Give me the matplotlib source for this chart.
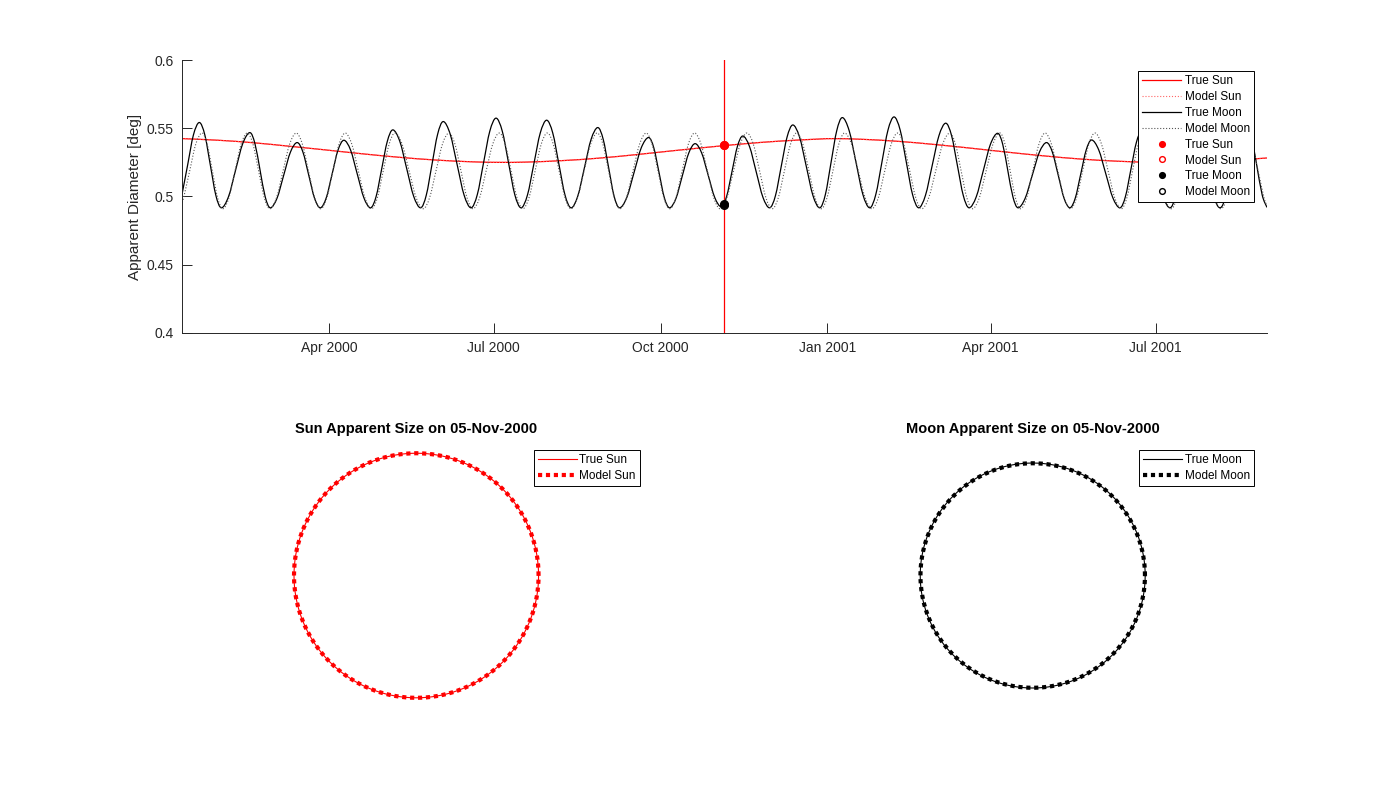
import numpy as np
import pandas as pd
import matplotlib
matplotlib.use("Agg")
import matplotlib.pyplot as plt
import matplotlib.dates as mdates
from matplotlib.ticker import FuncFormatter
from matplotlib.path import Path
from matplotlib.patches import PathPatch

plt.rcParams['font.family'] = ['Liberation Sans', 'DejaVu Sans']

# --- data ---
START = pd.Timestamp('2000-01-11')      # left edge of the time axis
NOW = pd.Timestamp('2000-11-05')        # selected date (red line)
now_label = '05-Nov-2000'

# Sun apparent diameter [deg], days since START
sun_days = [0, 20, 40, 60, 80, 100, 120, 140, 160, 175, 190, 210, 230, 250, 270, 290,
            310, 330, 350, 360, 375, 395, 415, 435, 455, 475, 495, 515, 535, 545, 560,
            580, 598.4]
true_sun_deg = [0.5424, 0.5412, 0.5393, 0.5367, 0.5340, 0.5312, 0.5287, 0.5267, 0.5254,
                0.5250, 0.5252, 0.5263, 0.5281, 0.5306, 0.5334, 0.5361, 0.5386, 0.5406,
                0.5420, 0.5424, 0.5419, 0.5404, 0.5381, 0.5354, 0.5325, 0.5298, 0.5275,
                0.5259, 0.5250, 0.5250, 0.5254, 0.5266, 0.5282]
model_sun_deg = list(true_sun_deg)   # model sun lies on top of the true one

# Moon apparent diameter [deg], true curve
true_moon_days = [
    0.0, 3.1, 6.3,
    9.55, 12.59, 15.63, 18.66,
    21.7, 25.63, 29.55, 33.48,
    37.4, 40.23, 43.05, 45.88,
    48.7, 52.4, 56.1, 59.8,
    63.5, 66.7, 69.9, 73.1,
    76.3, 79.55, 82.8, 86.05,
    89.3, 92.98, 96.65, 100.33,
    104.0, 107.08, 110.15, 113.23,
    116.3, 120.13, 123.95, 127.78,
    131.6, 134.73, 137.85, 140.98,
    144.1, 147.93, 151.75, 155.58,
    159.4, 162.85, 166.3, 169.75,
    173.2, 176.65, 180.1, 183.55,
    187.0, 190.53, 194.05, 197.58,
    201.1, 204.48, 207.85, 211.23,
    214.6, 218.28, 221.95, 225.63,
    229.3, 232.3, 235.3, 238.3,
    241.3, 245.3, 249.3, 253.3,
    257.3, 260.2, 263.1, 266.0,
    268.9, 272.43, 275.95, 279.48,
    283.0, 286.6, 290.2, 293.8,
    297.4, 300.38, 303.35, 306.33,
    309.3, 313.0, 316.7, 320.4,
    324.1, 327.3, 330.5, 333.7,
    336.9, 340.6, 344.3, 348.0,
    351.7, 354.83, 357.95, 361.08,
    364.2, 367.98, 371.75, 375.53,
    379.3, 382.65, 386.0, 389.35,
    392.7, 396.1, 399.5, 402.9,
    406.3, 410.03, 413.75, 417.48,
    421.2, 424.43, 427.65, 430.88,
    434.1, 438.03, 441.95, 445.88,
    449.8, 452.63, 455.45, 458.28,
    461.1, 465.03, 468.95, 472.88,
    476.8, 480.03, 483.25, 486.48,
    489.7, 492.7, 495.7, 498.7,
    501.7, 505.6, 509.5, 513.4,
    517.3, 520.33, 523.35, 526.38,
    529.4, 533.28, 537.15, 541.03,
    544.9, 548.08, 551.25, 554.43,
    557.6, 561.33, 565.05, 568.78,
    572.5, 575.95, 579.4, 582.85,
    586.3, 589.45, 592.6, 595.75,
    598.4]
true_moon_deg = [
    0.5015, 0.5230, 0.5451,
    0.5542, 0.5451, 0.5230, 0.5009,
    0.4917, 0.4998, 0.5193, 0.5387,
    0.5468, 0.5387, 0.5193, 0.4998,
    0.4917, 0.4987, 0.5156, 0.5325,
    0.5395, 0.5325, 0.5156, 0.4987,
    0.4917, 0.4990, 0.5165, 0.5340,
    0.5412, 0.5340, 0.5165, 0.4990,
    0.4917, 0.5001, 0.5203, 0.5404,
    0.5488, 0.5404, 0.5203, 0.5001,
    0.4917, 0.5010, 0.5233, 0.5456,
    0.5549, 0.5456, 0.5233, 0.5010,
    0.4917, 0.5013, 0.5246, 0.5478,
    0.5574, 0.5478, 0.5246, 0.5013,
    0.4917, 0.5011, 0.5238, 0.5465,
    0.5559, 0.5465, 0.5238, 0.5011,
    0.4917, 0.5003, 0.5211, 0.5419,
    0.5505, 0.5419, 0.5211, 0.5003,
    0.4917, 0.4992, 0.5175, 0.5357,
    0.5432, 0.5357, 0.5175, 0.4992,
    0.4917, 0.4986, 0.5152, 0.5318,
    0.5387, 0.5319, 0.5156, 0.4993,
    0.4925, 0.5001, 0.5184, 0.5367,
    0.5443, 0.5366, 0.5180, 0.4994,
    0.4917, 0.5006, 0.5221, 0.5435,
    0.5524, 0.5435, 0.5221, 0.5006,
    0.4917, 0.5014, 0.5248, 0.5481,
    0.5578, 0.5481, 0.5248, 0.5014,
    0.4917, 0.5015, 0.5250, 0.5486,
    0.5583, 0.5486, 0.5250, 0.5015,
    0.4917, 0.5008, 0.5227, 0.5446,
    0.5537, 0.5446, 0.5227, 0.5008,
    0.4917, 0.4997, 0.5190, 0.5383,
    0.5463, 0.5383, 0.5190, 0.4997,
    0.4917, 0.4987, 0.5156, 0.5325,
    0.5395, 0.5325, 0.5156, 0.4987,
    0.4917, 0.4990, 0.5166, 0.5341,
    0.5414, 0.5341, 0.5166, 0.4990,
    0.4917, 0.5000, 0.5199, 0.5397,
    0.5480, 0.5397, 0.5199, 0.5000,
    0.4917, 0.5007, 0.5224, 0.5440,
    0.5530, 0.5440, 0.5224, 0.5007,
    0.4917, 0.5011, 0.5239, 0.5466,
    0.5560, 0.5466, 0.5239, 0.5011,
    0.4920]

# Moon apparent diameter [deg], model curve
model_moon_days = [
    0.0, 0.9, 4.25, 7.6,
    11.0, 13.88, 16.75, 19.63,
    22.5, 25.88, 29.25, 32.63,
    36.0, 39.13, 42.25, 45.38,
    48.5, 52.13, 55.75, 59.38,
    63.0, 66.38, 69.75, 73.13,
    76.5, 79.88, 83.25, 86.63,
    90.0, 93.63, 97.25, 100.88,
    104.5, 107.75, 111.0, 114.25,
    117.5, 121.38, 125.25, 129.13,
    133.0, 136.55, 140.1, 143.65,
    147.2, 150.53, 153.85, 157.18,
    160.5, 164.13, 167.75, 171.38,
    175.0, 178.25, 181.5, 184.75,
    188.0, 191.38, 194.75, 198.13,
    201.5, 204.75, 208.0, 211.25,
    214.5, 218.13, 221.75, 225.38,
    229.0, 232.13, 235.25, 238.38,
    241.5, 245.13, 248.75, 252.38,
    256.0, 259.25, 262.5, 265.75,
    269.0, 272.43, 275.85, 279.28,
    282.7, 286.23, 289.75, 293.28,
    296.8, 300.5, 304.2, 307.9,
    311.6, 315.08, 318.55, 322.03,
    325.5, 328.88, 332.25, 335.63,
    339.0, 342.38, 345.75, 349.13,
    352.5, 355.75, 359.0, 362.25,
    365.5, 369.25, 373.0, 376.75,
    380.5, 384.05, 387.6, 391.15,
    394.7, 398.03, 401.35, 404.68,
    408.0, 411.85, 415.7, 419.55,
    423.4, 426.55, 429.7, 432.85,
    436.0, 439.75, 443.5, 447.25,
    451.0, 453.88, 456.75, 459.63,
    462.5, 465.88, 469.25, 472.63,
    476.0, 479.5, 483.0, 486.5,
    490.0, 493.38, 496.75, 500.13,
    503.5, 507.13, 510.75, 514.38,
    518.0, 521.13, 524.25, 527.38,
    530.5, 534.25, 538.0, 541.75,
    545.5, 548.75, 552.0, 555.25,
    558.5, 562.13, 565.75, 569.38,
    573.0, 576.5, 580.0, 583.5,
    587.0, 590.25, 593.5, 596.75,
    598.4]
model_moon_deg = [
    0.4956, 0.4991, 0.5188, 0.5384,
    0.5465, 0.5384, 0.5188, 0.4991,   # peak day 11.0
    0.4910, 0.4991, 0.5188, 0.5384,   # trough 22.5
    0.5465, 0.5384, 0.5188, 0.4991,   # 36.0
    0.4910, 0.4991, 0.5188, 0.5384,   # 48.5
    0.5465, 0.5384, 0.5188, 0.4991,   # 63.0
    0.4910, 0.4991, 0.5188, 0.5384,   # 76.5
    0.5465, 0.5384, 0.5188, 0.4991,   # 90.0
    0.4910, 0.4991, 0.5188, 0.5384,   # 104.5
    0.5465, 0.5384, 0.5188, 0.4991,   # 117.5
    0.4910, 0.4991, 0.5188, 0.5384,   # 133.0
    0.5465, 0.5384, 0.5188, 0.4991,   # 147.2
    0.4910, 0.4991, 0.5188, 0.5384,   # 160.5
    0.5465, 0.5384, 0.5188, 0.4991,   # 175.0
    0.4910, 0.4991, 0.5188, 0.5384,   # 188.0
    0.5465, 0.5384, 0.5188, 0.4991,   # 201.5
    0.4910, 0.4991, 0.5188, 0.5384,   # 214.5
    0.5465, 0.5384, 0.5188, 0.4991,   # 229.0
    0.4910, 0.4991, 0.5188, 0.5384,   # 241.5
    0.5465, 0.5384, 0.5188, 0.4991,   # 256.0
    0.4910, 0.4991, 0.5188, 0.5384,   # 269.0
    0.5465, 0.5384, 0.5188, 0.4991,   # 282.7
    0.4910, 0.4991, 0.5188, 0.5384,   # 296.8
    0.5465, 0.5384, 0.5188, 0.4991,   # 311.6
    0.4910, 0.4991, 0.5188, 0.5384,   # 325.5
    0.5465, 0.5384, 0.5188, 0.4991,   # 339.0
    0.4910, 0.4991, 0.5188, 0.5384,   # 352.5
    0.5465, 0.5384, 0.5188, 0.4991,   # 365.5
    0.4910, 0.4991, 0.5188, 0.5384,   # 380.5
    0.5465, 0.5384, 0.5188, 0.4991,   # 394.7
    0.4910, 0.4991, 0.5188, 0.5384,   # 408.0
    0.5465, 0.5384, 0.5188, 0.4991,   # 423.4
    0.4910, 0.4991, 0.5188, 0.5384,   # 436.0
    0.5465, 0.5384, 0.5188, 0.4991,   # 451.0
    0.4910, 0.4991, 0.5188, 0.5384,   # 462.5
    0.5465, 0.5384, 0.5188, 0.4991,   # 476.0
    0.4910, 0.4991, 0.5188, 0.5384,   # 490.0
    0.5465, 0.5384, 0.5188, 0.4991,   # 503.5
    0.4910, 0.4991, 0.5188, 0.5384,   # 518.0
    0.5465, 0.5384, 0.5188, 0.4991,   # 530.5
    0.4910, 0.4991, 0.5188, 0.5384,   # 545.5
    0.5465, 0.5384, 0.5188, 0.4991,   # 558.5
    0.4910, 0.4991, 0.5188, 0.5384,   # 573.0
    0.5465, 0.5384, 0.5188, 0.4991,   # 587.0
    0.4931]

# values on the selected date
now_true_sun = 0.5376
now_model_sun = 0.5376
now_true_moon = 0.4945
now_model_moon = 0.4935


def to_num(days):
    return mdates.date2num(START + pd.to_timedelta(np.asarray(days, dtype=float), unit='D'))


def smooth_path(x, y):
    # smooth (Catmull-Rom style) bezier path through the read points
    x = np.asarray(x, float)
    y = np.asarray(y, float)
    px = np.concatenate([[x[0]], x, [x[-1]]])
    py = np.concatenate([[y[0]], y, [y[-1]]])
    verts = [(x[0], y[0])]
    codes = [Path.MOVETO]
    for i in range(len(x) - 1):
        c1 = (px[i + 1] + (px[i + 2] - px[i]) / 6, py[i + 1] + (py[i + 2] - py[i]) / 6)
        c2 = (px[i + 2] - (px[i + 3] - px[i + 1]) / 6,
              py[i + 2] - (py[i + 3] - py[i + 1]) / 6)
        verts += [c1, c2, (px[i + 2], py[i + 2])]
        codes += [Path.CURVE4] * 3
    return Path(verts, codes)


def add_curve(ax, days, vals, **kw):
    ax.add_patch(PathPatch(smooth_path(to_num(days), vals), fill=False,
                           joinstyle='round', zorder=2, **kw))


AX_COLOR = '#262626'

fig = plt.figure(figsize=(14, 8), dpi=100)

# ---------- top: diameters over time ----------
ax = fig.add_axes([0.13, 0.5838, 0.775, 0.3412])
ax.xaxis_date()
add_curve(ax, sun_days, true_sun_deg, edgecolor='red', lw=0.9)
add_curve(ax, sun_days, model_sun_deg, edgecolor=(1, 0.4, 0.4), lw=0.8, linestyle=':')
add_curve(ax, true_moon_days, true_moon_deg, edgecolor='black', lw=0.9)
add_curve(ax, model_moon_days, model_moon_deg, edgecolor='#555555', lw=0.8, linestyle=':')

# legend proxies for the curves
ax.plot([], [], color='red', lw=0.9, label='True Sun')
ax.plot([], [], color=(1, 0.4, 0.4), lw=0.8, ls=':', label='Model Sun')
ax.plot([], [], color='black', lw=0.9, label='True Moon')
ax.plot([], [], color='#555555', lw=0.8, ls=':', label='Model Moon')

now_x = mdates.date2num(NOW)
ax.axvline(now_x, color='red', lw=0.9, zorder=1.5)
ax.plot([now_x], [now_true_sun], 'o', color='red', ms=5.5, label='True Sun')
ax.plot([now_x], [now_model_sun], 'o', mfc='none', mec='red', ms=5.5, label='Model Sun')
ax.plot([now_x], [now_true_moon], 'o', color='black', ms=5.5, label='True Moon')
ax.plot([now_x], [now_model_moon], 'o', mfc='none', mec='black', ms=5.5,
        label='Model Moon')

ax.set_xlim(to_num([true_moon_days[0]])[0], to_num([true_moon_days[-1]])[0])
ax.set_ylim(0.4, 0.6)
ax.set_yticks([0.4, 0.45, 0.5, 0.55, 0.6])
ax.yaxis.set_major_formatter(FuncFormatter(lambda v, p: f'{v:g}'))
ax.xaxis.set_major_locator(mdates.MonthLocator(bymonth=[1, 4, 7, 10]))
ax.xaxis.set_major_formatter(mdates.DateFormatter('%b %Y'))
ax.set_ylabel('Apparent Diameter [deg]', fontsize=11, color=AX_COLOR, labelpad=3)
ax.spines['top'].set_visible(False)
ax.spines['right'].set_visible(False)
for s in ('left', 'bottom'):
    ax.spines[s].set_color(AX_COLOR)
    ax.spines[s].set_linewidth(0.7)
ax.tick_params(direction='in', length=7, width=0.7, colors=AX_COLOR, labelsize=10,
               pad=6)
leg = ax.legend(loc='upper right', bbox_to_anchor=(0.988, 0.96), borderaxespad=0,
                fontsize=8.5, handlelength=3.3, fancybox=False, framealpha=1,
                edgecolor='black', labelspacing=0.33, borderpad=0.35,
                handletextpad=0.3, markerscale=0.75)
leg.get_frame().set_linewidth(0.7)

# ---------- bottom: circles on the selected date ----------
theta = np.linspace(0, 2 * np.pi, 721)
panels = [
    ([0.13, 0.11, 0.3347, 0.3412], 'Sun', 'red', now_true_sun, now_model_sun, 0.9765),
    ([0.5703, 0.11, 0.3347, 0.3412], 'Moon', 'black', now_true_moon, now_model_moon, 0.972),
]
for pos, body, col, d_true, d_model, lx in panels:
    a = fig.add_axes(pos)
    a.plot(d_true / 2 * np.cos(theta), d_true / 2 * np.sin(theta), color=col, lw=0.8,
           label=f'True {body}')
    a.plot(d_model / 2 * np.cos(theta), d_model / 2 * np.sin(theta), color=col, lw=3,
           ls=(0, (1, 0.9)), label=f'Model {body}')
    a.set_ylim(-0.3, 0.3)
    a.set_xlim(-0.3, 0.3)
    a.set_aspect('equal', adjustable='datalim')
    a.axis('off')
    a.set_title(f'{body} Apparent Size on {now_label}', fontsize=10.5, fontweight='bold',
                color='black', pad=4)
    lg = a.legend(loc='upper right', bbox_to_anchor=(lx, 0.96), borderaxespad=0,
                  fontsize=8.5, handlelength=3.3, fancybox=False, framealpha=1,
                  edgecolor='black', labelspacing=0.3, borderpad=0.35,
                  handletextpad=0.2)
    lg.get_frame().set_linewidth(0.7)

fig.savefig('out.png', dpi=100)
